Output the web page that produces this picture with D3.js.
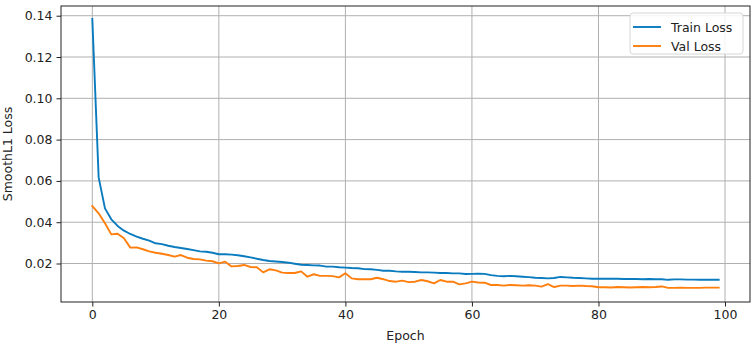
<!DOCTYPE html>
<html><head><meta charset="utf-8">
<script src="https://cdn.jsdelivr.net/npm/d3@7"></script>
<style>body{margin:0;background:#fff;} text{font-family:"DejaVu Sans",sans-serif;}</style>
</head><body><svg id="c" width="754" height="345"></svg>
<script>
const epochs = d3.range(0, 100);
const trainLoss = [
0.1384,0.0617,0.0467,0.0414,0.0382,0.0359,0.0343,0.0330,0.0320,0.0311,
0.0298,0.0294,0.0286,0.0280,0.0275,0.0270,0.0265,0.0259,0.0257,0.0252,
0.0245,0.0245,0.0243,0.0240,0.0235,0.0230,0.0223,0.0217,0.0212,0.0210,
0.0207,0.0204,0.0199,0.0194,0.0193,0.0191,0.0190,0.0185,0.0185,0.0182,
0.0180,0.0178,0.0177,0.0173,0.0172,0.0169,0.0165,0.0165,0.0162,0.0160,
0.0160,0.0159,0.0157,0.0157,0.0156,0.0154,0.0154,0.0152,0.0152,0.0149,
0.0150,0.0151,0.0150,0.0144,0.0140,0.0138,0.0140,0.0138,0.0136,0.0134,
0.0131,0.0130,0.0128,0.0130,0.0135,0.0133,0.0131,0.0130,0.0128,0.0126,
0.0127,0.0126,0.0126,0.0126,0.0125,0.0125,0.0125,0.0124,0.0125,0.0124,
0.0124,0.0121,0.0123,0.0123,0.0122,0.0122,0.0121,0.0121,0.0121,0.0121];
const valLoss = [
0.0478,0.0443,0.0395,0.0341,0.0344,0.0322,0.0277,0.0278,0.0269,0.0259,
0.0252,0.0247,0.0241,0.0233,0.0241,0.0228,0.0222,0.0220,0.0214,0.0211,
0.0201,0.0209,0.0186,0.0188,0.0193,0.0183,0.0182,0.0157,0.0172,0.0167,
0.0156,0.0154,0.0154,0.0162,0.0136,0.0148,0.0140,0.0140,0.0139,0.0133,
0.0153,0.0128,0.0124,0.0124,0.0124,0.0131,0.0124,0.0115,0.0112,0.0117,
0.0110,0.0112,0.0120,0.0114,0.0104,0.0120,0.0112,0.0112,0.0099,0.0104,
0.0112,0.0108,0.0107,0.0096,0.0096,0.0093,0.0096,0.0095,0.0093,0.0095,
0.0093,0.0088,0.0100,0.0086,0.0093,0.0093,0.0091,0.0093,0.0091,0.0090,
0.0085,0.0085,0.0084,0.0086,0.0085,0.0084,0.0085,0.0086,0.0085,0.0086,
0.0089,0.0082,0.0082,0.0083,0.0082,0.0082,0.0082,0.0083,0.0083,0.0083];
const xTicks = [0,20,40,60,80,100];
const yTicks = [0.02,0.04,0.06,0.08,0.10,0.12,0.14];
const seriesNames = ["Train Loss","Val Loss"];
const colors = ["#0a7bbf","#ff7f0e"];

const svg = d3.select("#c");
const L=61, R=750, T=6, B=302;
const x = d3.scaleLinear().domain([-4.95,103.95]).range([L,R]);
const y = d3.scaleLinear().domain([0.00136,0.1447]).range([B,T]);

// grid
const g = svg.append("g");
g.selectAll(".vg").data(xTicks).join("line")
  .attr("x1",d=>x(d)).attr("x2",d=>x(d)).attr("y1",T).attr("y2",B)
  .attr("stroke","#b0b0b0").attr("stroke-width",1);
g.selectAll(".hg").data(yTicks).join("line")
  .attr("x1",L).attr("x2",R).attr("y1",d=>y(d)).attr("y2",d=>y(d))
  .attr("stroke","#b0b0b0").attr("stroke-width",1);

// lines
const line = d3.line().x((d,i)=>x(epochs[i])).y(d=>y(d));
[trainLoss,valLoss].forEach((s,k)=>{
  svg.append("path").datum(s).attr("d",line).attr("fill","none")
    .attr("stroke",colors[k]).attr("stroke-width",1.9)
    .attr("stroke-linejoin","round").attr("stroke-linecap","square");
});

// axes
const xAxis = d3.axisBottom(x).tickValues(xTicks).tickFormat(d3.format("d")).tickSizeOuter(0).tickSize(4.5).tickPadding(4);
const yAxis = d3.axisLeft(y).tickValues(yTicks).tickFormat(d3.format(".2f")).tickSizeOuter(0).tickSize(4.5).tickPadding(4);
const gx = svg.append("g").attr("transform",`translate(0,${B})`).call(xAxis);
const gy = svg.append("g").attr("transform",`translate(${L},0)`).call(yAxis);
[gx,gy].forEach(a=>{
  a.select(".domain").remove();
  a.selectAll("text").attr("font-size","12.5px").attr("fill","#222").attr("font-family","DejaVu Sans");
  a.selectAll("line").attr("stroke","#222");
});
svg.append("rect").attr("x",L).attr("y",T).attr("width",R-L).attr("height",B-T)
  .attr("fill","none").attr("stroke","#222").attr("stroke-width",1);

svg.append("text").attr("x",(L+R)/2).attr("y",340).attr("text-anchor","middle")
  .attr("font-size","12.5px").attr("fill","#222").text("Epoch");
svg.append("text").attr("transform",`translate(12,${(T+B)/2}) rotate(-90)`)
  .attr("text-anchor","middle").attr("font-size","12.5px").attr("fill","#222").text("SmoothL1 Loss");

// legend
const lg = svg.append("g");
lg.append("rect").attr("x",630).attr("y",13).attr("width",113).attr("height",41).attr("rx",3)
  .attr("fill","#fff").attr("fill-opacity",0.85).attr("stroke","#d6d6d6").attr("stroke-width",1);
seriesNames.forEach((n,k)=>{
  const yy = 27 + k*19;
  lg.append("line").attr("x1",633).attr("x2",661).attr("y1",yy).attr("y2",yy)
    .attr("stroke",colors[k]).attr("stroke-width",1.9);
  lg.append("text").attr("x",671).attr("y",yy+4.5).attr("font-size","12.5px").attr("fill","#222").text(n);
});
</script></body></html>
